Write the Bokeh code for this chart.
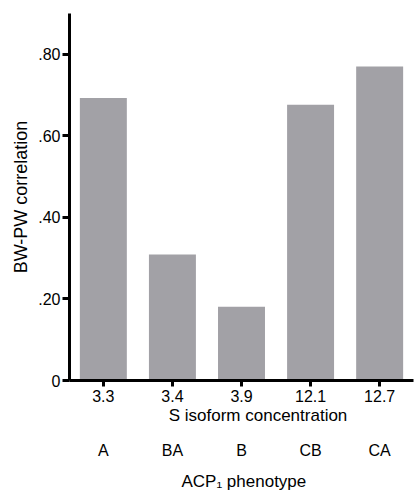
from bokeh.plotting import figure
from bokeh.models import Range1d, FixedTicker, LinearAxis
from bokeh.embed import file_html
from bokeh.resources import INLINE

concentrations = ["3.3", "3.4", "3.9", "12.1", "12.7"]
phenotypes = ["A", "BA", "B", "CB", "CA"]
correlation = [0.693, 0.309, 0.181, 0.676, 0.770]
y_ticks = [0.0, 0.2, 0.4, 0.6, 0.8]
y_tick_labels = ["0", ".20", ".40", ".60", ".80"]

FONT = "Liberation Sans"
BAR = "#a2a1a6"

idx = list(range(len(concentrations)))

p = figure(frame_width=344, frame_height=367, output_backend="svg",
           toolbar_location=None, x_range=Range1d(-0.49, 4.49),
           y_range=Range1d(0, 0.9), min_border_left=69, min_border_top=13,
           min_border_right=2, min_border_bottom=0, x_axis_location=None)
p.outline_line_color = None
p.grid.visible = False
p.background_fill_color = "white"
p.border_fill_color = "white"

p.vbar(x=idx, top=correlation, width=0.68, fill_color=BAR, line_color=None)

ax1 = LinearAxis(ticker=FixedTicker(ticks=idx),
                 major_label_overrides={i: c for i, c in zip(idx, concentrations)},
                 axis_label="\u00a0" * 7 + "S isoform concentration")
ax2 = LinearAxis(ticker=FixedTicker(ticks=idx),
                 major_label_overrides={i: c for i, c in zip(idx, phenotypes)},
                 axis_label="\u00a0" + "ACP\u2081 phenotype")
for ax in (ax1, ax2):
    ax.major_label_text_font = FONT
    ax.major_label_text_font_size = "16px"
    ax.major_label_text_color = "black"
    ax.axis_label_text_font = FONT
    ax.axis_label_text_font_size = "17px"
    ax.axis_label_text_font_style = "normal"
    ax.axis_label_text_color = "black"
    ax.minor_tick_line_color = None
ax1.axis_line_width = 3
ax1.axis_line_color = "black"
ax1.major_tick_line_width = 3
ax1.major_tick_line_color = "black"
ax1.major_tick_in = 0
ax1.major_tick_out = 6
ax1.major_label_standoff = 3
ax1.axis_label_standoff = 1
ax2.axis_line_color = None
ax2.major_tick_line_color = None
ax2.major_tick_in = 0
ax2.major_tick_out = 0
ax2.major_label_standoff = 14
ax2.axis_label_standoff = 10
p.add_layout(ax1, "below")
p.add_layout(ax2, "below")

ya = p.yaxis[0]
ya.ticker = FixedTicker(ticks=y_ticks)
ya.major_label_overrides = {t: l for t, l in zip(y_ticks, y_tick_labels)}
ya.axis_label = "BW-PW correlation"
ya.axis_label_text_font = FONT
ya.axis_label_text_font_size = "18px"
ya.axis_label_text_font_style = "normal"
ya.axis_label_text_color = "black"
ya.major_label_text_font = FONT
ya.major_label_text_font_size = "16px"
ya.major_label_text_color = "black"
ya.axis_line_width = 3
ya.axis_line_color = "black"
ya.major_tick_line_width = 3
ya.major_tick_in = 0
ya.major_tick_out = 7
ya.minor_tick_line_color = None
ya.major_label_standoff = 2
ya.axis_label_standoff = 4

open("out.html", "w").write(file_html(p, INLINE))
